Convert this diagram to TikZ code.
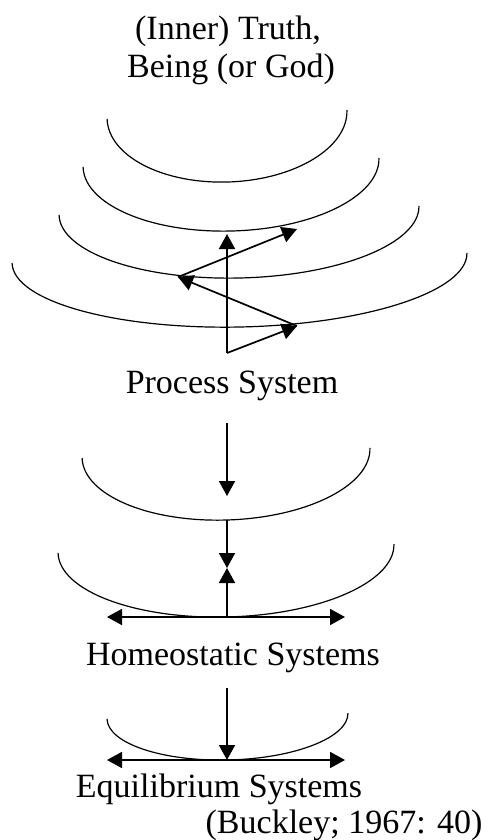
\documentclass[tikz,border=0pt]{standalone}
\usepackage{fontspec}
\setmainfont{Liberation Serif}
\usepackage{tikz}
\usetikzlibrary{arrows.meta}

\begin{document}
\begin{tikzpicture}[x=1pt,y=1pt,>={Triangle[length=15pt,width=16pt]},
    bowl/.style={line width=1.2pt},
    flow/.style={->,line width=1.7pt},
    lab/.style={font=\fontsize{34}{38}\selectfont,anchor=base,inner sep=0pt}]
\useasboundingbox (0,0) rectangle (487,-840);
% the bowls, centre x/centre y/x radius/y radius/tilt
\foreach \cx/\cy/\rx/\ry/\tilt in {227/114.5/120/67.5/2.15, 231/162.5/148/68.5/1.74,
    239/210.5/180/67.5/1.43, 239.5/258/227.5/69/1.26, 226/453/144/67/2.0,
    226/548.5/168/68.5/1.5, 227.5/716/120.5/44/1.4} {
    \draw[bowl,shift={(\cx,-\cy)},rotate=\tilt] (-\rx,0) arc[start angle=180,end angle=360,x radius=\rx,y radius=\ry];
}
% labels
\node[lab] (truth) at (228,-40) {(Inner) Truth,};
\node[lab] (being) at (231,-78) {Being (or God)};
\node[lab] (process) at (232,-393) {Process System};
\node[lab] (homeo) at (233,-665) {Homeostatic Systems};
\node[lab] (equil) at (219,-797) {Equilibrium Systems};
\node[lab] (cite) at (344,-833) {(Buckley; 1967: 40)};
% process system
\coordinate (z0) at (227,-353);
\coordinate (z1) at (297,-326);
\coordinate (z2) at (178,-277);
\coordinate (z3) at (297,-229);
\coordinate (v1) at (227,-234);
\draw[flow] (z0) -- (v1);
\draw[flow] (z0) -- (z1);
\draw[flow] (z1) -- (z2);
\draw[flow] (z2) -- (z3);
% homeostatic systems
\coordinate (p0) at (227,-423);
\coordinate (p1) at (227,-496);
\coordinate (b5) at (227,-520);
\coordinate (mid) at (227,-568);
\coordinate (b6) at (227,-617);
\coordinate (l6) at (107,-617);
\coordinate (r6) at (345,-617);
\draw[flow] (p0) -- (p1);
\draw[flow] (b5) -- (mid);
\draw[flow] (b6) -- (mid);
\draw[flow,<->] (l6) -- (r6);
% equilibrium systems
\coordinate (h0) at (227,-688);
\coordinate (b7) at (227,-760);
\coordinate (l7) at (107,-760);
\coordinate (r7) at (345,-760);
\draw[flow] (h0) -- (b7);
\draw[flow,<->] (l7) -- (r7);
\end{tikzpicture}
\end{document}
